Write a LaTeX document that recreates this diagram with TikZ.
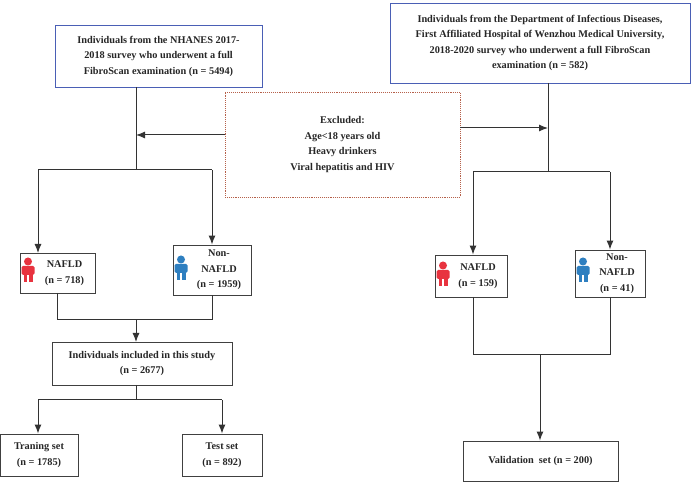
\documentclass[tikz,border=0pt]{standalone}
\usepackage{fontspec}
\setmainfont{Liberation Serif}
\usetikzlibrary{arrows.meta}
\definecolor{bb}{HTML}{4A5FB5}
\definecolor{dr}{HTML}{B5604A}
\definecolor{pr}{HTML}{E8333F}
\definecolor{pb}{HTML}{2E7FC0}
\tikzset{
 box/.style={draw=black!75,line width=0.9pt,inner sep=0pt,font=\bfseries\fontsize{10.3}{15.5}\selectfont,align=center,text=black!85},
 bluebox/.style={box,draw=bb},
 ln/.style={draw=black!80,line width=1pt},
 ar/.style={ln,-{Latex[length=9pt,width=7pt]}},
}
\newcommand{\person}[3]{% x y color
 \fill[#3] (#1,#2-6.5) circle (4);
 \fill[#3,rounded corners=1.5pt] (#1-6.5,#2-2) rectangle (#1+6.5,#2+7);
 \fill[#3] (#1-4.5,#2+6) rectangle (#1-0.6,#2+14);
 \fill[#3] (#1+0.6,#2+6) rectangle (#1+4.5,#2+14);
}
\begin{document}
\begin{tikzpicture}[x=1pt,y=-1pt]
\useasboundingbox (0,0) rectangle (697,486);
% boxes
\node[bluebox,minimum width=207,minimum height=62] (A) at (158.5,56) {Individuals from the NHANES 2017-\\2018 survey who underwent a full\\FibroScan examination (n = 5494)};
\node[bluebox,minimum width=300,minimum height=80] (B) at (540,43) {Individuals from the Department of Infectious Diseases,\\First Affiliated Hospital of Wenzhou Medical University,\\2018-2020 survey who underwent a full FibroScan\\examination (n = 582)};
\node[box,draw=dr,densely dotted,minimum width=235,minimum height=105] (E) at (342.5,144.5) {Excluded:\\Age<18 years old\\Heavy drinkers\\Viral hepatitis and HIV};
\node[box,minimum width=75,minimum height=40] (N1) at (57.5,273) {\hspace*{14pt}NAFLD\\\hspace*{14pt}(n = 718)};
\node[box,minimum width=78,minimum height=50] (M1) at (212,270) {\hspace*{14pt}Non-\\\hspace*{14pt}NAFLD\\\hspace*{14pt}(n = 1959)};
\node[box,minimum width=180,minimum height=43] (I) at (142,363.5) {Individuals included in this study\\(n = 2677)};
\node[box,minimum width=78,minimum height=42] (T1) at (39,455) {Traning set\\(n = 1785)};
\node[box,minimum width=80,minimum height=42] (T2) at (222,455) {Test set\\(n = 892)};
\node[box,minimum width=72,minimum height=42] (N2) at (471,276) {\hspace*{14pt}NAFLD\\\hspace*{14pt}(n = 159)};
\node[box,minimum width=70,minimum height=47] (M2) at (610,273.5) {\hspace*{14pt}Non-\\\hspace*{14pt}NAFLD\\\hspace*{14pt}(n = 41)};
\node[box,minimum width=155,minimum height=40] (V) at (540.5,461) {Validation\ \ set (n = 200)};
\person{28}{268}{pr}
\person{181}{266}{pb}
\person{443}{272}{pr}
\person{583}{268}{pb}
% coordinates
\coordinate (a1) at (136,170);
\coordinate (b1) at (548,172);
% left top
\draw[ln] (136,87) -- (a1);
\draw[ar] (E.west |- 0,135) -- (136,135);
\draw[ln] (38,170) -- (212,170);
\draw[ar] (38,170) -- (38,253);
\draw[ar] (212,170) -- (M1.north);
% right top
\draw[ln] (548,83) -- (b1);
\draw[ar] (E.east |- 0,128) -- (548,128);
\draw[ln] (473,172) -- (610,172);
\draw[ar] (473,172) -- (N2.north -| 473,0);
\draw[ar] (610,172) -- (M2.north);
% left merge
\draw[ln] (57,293) -- (57,320) -- (212,320) -- (212,295);
\draw[ar] (136,320) -- (136,342);
\draw[ln] (136,385) -- (136,400);
\draw[ln] (38,400) -- (222,400);
\draw[ar] (38,400) -- (T1.north -| 38,0);
\draw[ar] (222,400) -- (T2.north);
% right merge
\draw[ln] (473,297) -- (473,355) -- (610,355) -- (610,297);
\draw[ar] (540,355) -- (V.north -| 540,0);
\end{tikzpicture}
\end{document}
